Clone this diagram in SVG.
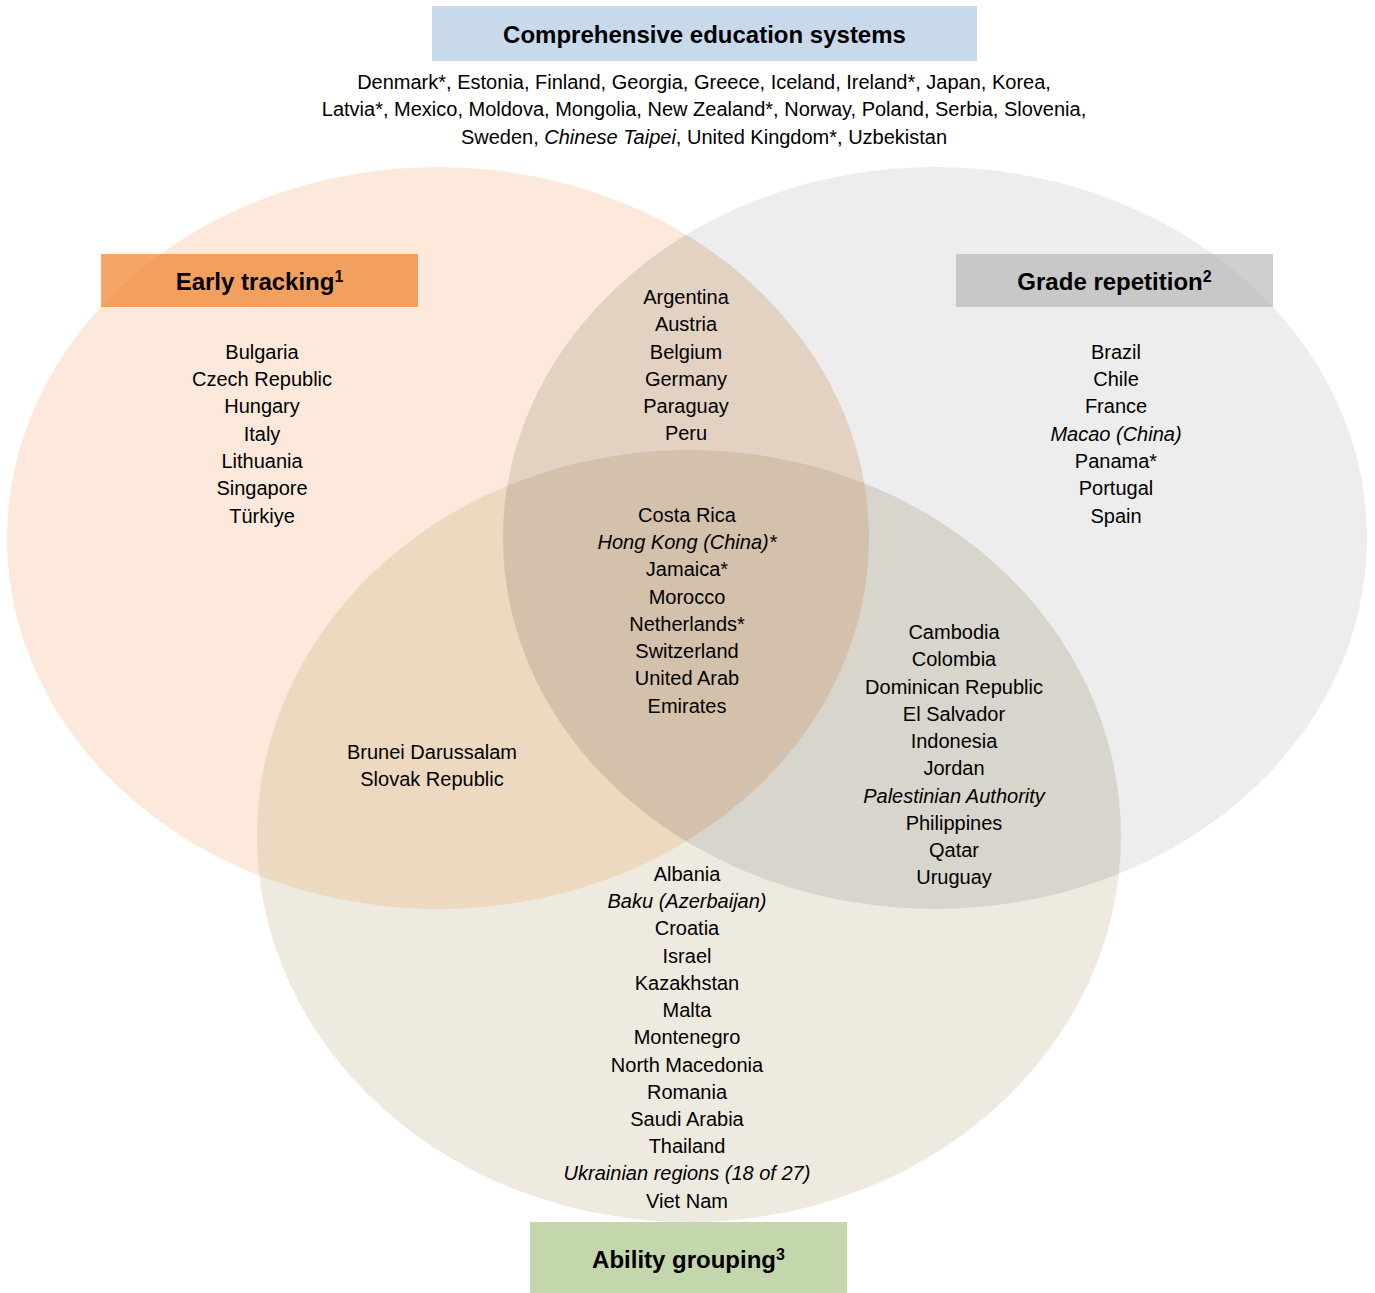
<svg xmlns="http://www.w3.org/2000/svg" width="1375" height="1293" viewBox="0 0 1375 1293">
<style>
text{font-family:"Liberation Sans",Arial,Helvetica,sans-serif;fill:#000;text-anchor:middle}
.t{font-size:20px}
.h{font-size:24px;font-weight:bold}
.sup{font-size:16px}
.i{font-style:italic}
</style>
<defs>
<ellipse id="e1" cx="438" cy="538" rx="431" ry="371"/>
<ellipse id="e2" cx="935" cy="538" rx="432" ry="371"/>
<ellipse id="e3" cx="689" cy="836" rx="432" ry="386"/>
<clipPath id="c1"><use href="#e1"/></clipPath>
<clipPath id="c2"><use href="#e2"/></clipPath>
</defs>
<rect width="1375" height="1293" fill="#fff"/>
<g id="sets">
<use href="#e1" fill="#FCE9DB"/>
<use href="#e2" fill="#EDEDED"/>
<use href="#e3" fill="#EEEAE0"/>
<g clip-path="url(#c1)"><use href="#e2" fill="#E3D2C2"/><use href="#e3" fill="#EDD9C0"/></g>
<g clip-path="url(#c2)"><use href="#e3" fill="#D8D5CC"/></g>
<g clip-path="url(#c1)"><g clip-path="url(#c2)"><use href="#e3" fill="#D4C1AC"/></g></g>
</g>
<g id="comprehensive">
<rect x="432" y="6" width="545" height="55" fill="#C9D9EC"/>
<text class="h" x="704.5" y="43">Comprehensive education systems</text>
<text class="t" x="704" y="89">Denmark*, Estonia, Finland, Georgia, Greece, Iceland, Ireland*, Japan, Korea,</text>
<text class="t" x="704" y="116">Latvia*, Mexico, Moldova, Mongolia, New Zealand*, Norway, Poland, Serbia, Slovenia,</text>
<text class="t" x="704" y="144">Sweden, <tspan class="i">Chinese Taipei</tspan>, United Kingdom*, Uzbekistan</text>
</g>
<g id="early-tracking">
<rect x="101" y="254" width="317" height="53" fill="#F0822C" fill-opacity="0.72"/>
<text class="h" x="259.5" y="290">Early tracking<tspan class="sup" dy="-8">1</tspan></text>
<text class="t" x="262" y="359">Bulgaria</text>
<text class="t" x="262" y="386">Czech Republic</text>
<text class="t" x="262" y="413">Hungary</text>
<text class="t" x="262" y="441">Italy</text>
<text class="t" x="262" y="468">Lithuania</text>
<text class="t" x="262" y="495">Singapore</text>
<text class="t" x="262" y="523">Türkiye</text>
</g>
<g id="grade-repetition">
<rect x="956" y="254" width="317" height="53" fill="#AFAFAF" fill-opacity="0.6"/>
<text class="h" x="1114.5" y="290">Grade repetition<tspan class="sup" dy="-8">2</tspan></text>
<text class="t" x="1116" y="359">Brazil</text>
<text class="t" x="1116" y="386">Chile</text>
<text class="t" x="1116" y="413">France</text>
<text class="t i" x="1116" y="441">Macao (China)</text>
<text class="t" x="1116" y="468">Panama*</text>
<text class="t" x="1116" y="495">Portugal</text>
<text class="t" x="1116" y="523">Spain</text>
</g>
<g id="tracking-repetition">
<text class="t" x="686" y="304">Argentina</text>
<text class="t" x="686" y="331">Austria</text>
<text class="t" x="686" y="359">Belgium</text>
<text class="t" x="686" y="386">Germany</text>
<text class="t" x="686" y="413">Paraguay</text>
<text class="t" x="686" y="440">Peru</text>
</g>
<g id="all-three">
<text class="t" x="687" y="522">Costa Rica</text>
<text class="t i" x="687" y="549">Hong Kong (China)*</text>
<text class="t" x="687" y="576">Jamaica*</text>
<text class="t" x="687" y="604">Morocco</text>
<text class="t" x="687" y="631">Netherlands*</text>
<text class="t" x="687" y="658">Switzerland</text>
<text class="t" x="687" y="685">United Arab</text>
<text class="t" x="687" y="713">Emirates</text>
</g>
<g id="tracking-grouping">
<text class="t" x="432" y="759">Brunei Darussalam</text>
<text class="t" x="432" y="786">Slovak Republic</text>
</g>
<g id="repetition-grouping">
<text class="t" x="954" y="639">Cambodia</text>
<text class="t" x="954" y="666">Colombia</text>
<text class="t" x="954" y="694">Dominican Republic</text>
<text class="t" x="954" y="721">El Salvador</text>
<text class="t" x="954" y="748">Indonesia</text>
<text class="t" x="954" y="775">Jordan</text>
<text class="t i" x="954" y="803">Palestinian Authority</text>
<text class="t" x="954" y="830">Philippines</text>
<text class="t" x="954" y="857">Qatar</text>
<text class="t" x="954" y="884">Uruguay</text>
</g>
<g id="ability-grouping">
<rect x="530" y="1222" width="317" height="71" fill="#9DBB75" fill-opacity="0.6"/>
<text class="h" x="688.5" y="1268">Ability grouping<tspan class="sup" dy="-8">3</tspan></text>
<text class="t" x="687" y="881">Albania</text>
<text class="t i" x="687" y="908">Baku (Azerbaijan)</text>
<text class="t" x="687" y="935">Croatia</text>
<text class="t" x="687" y="963">Israel</text>
<text class="t" x="687" y="990">Kazakhstan</text>
<text class="t" x="687" y="1017">Malta</text>
<text class="t" x="687" y="1044">Montenegro</text>
<text class="t" x="687" y="1072">North Macedonia</text>
<text class="t" x="687" y="1099">Romania</text>
<text class="t" x="687" y="1126">Saudi Arabia</text>
<text class="t" x="687" y="1153">Thailand</text>
<text class="t i" x="687" y="1180">Ukrainian regions (18 of 27)</text>
<text class="t" x="687" y="1208">Viet Nam</text>
</g>
</svg>
